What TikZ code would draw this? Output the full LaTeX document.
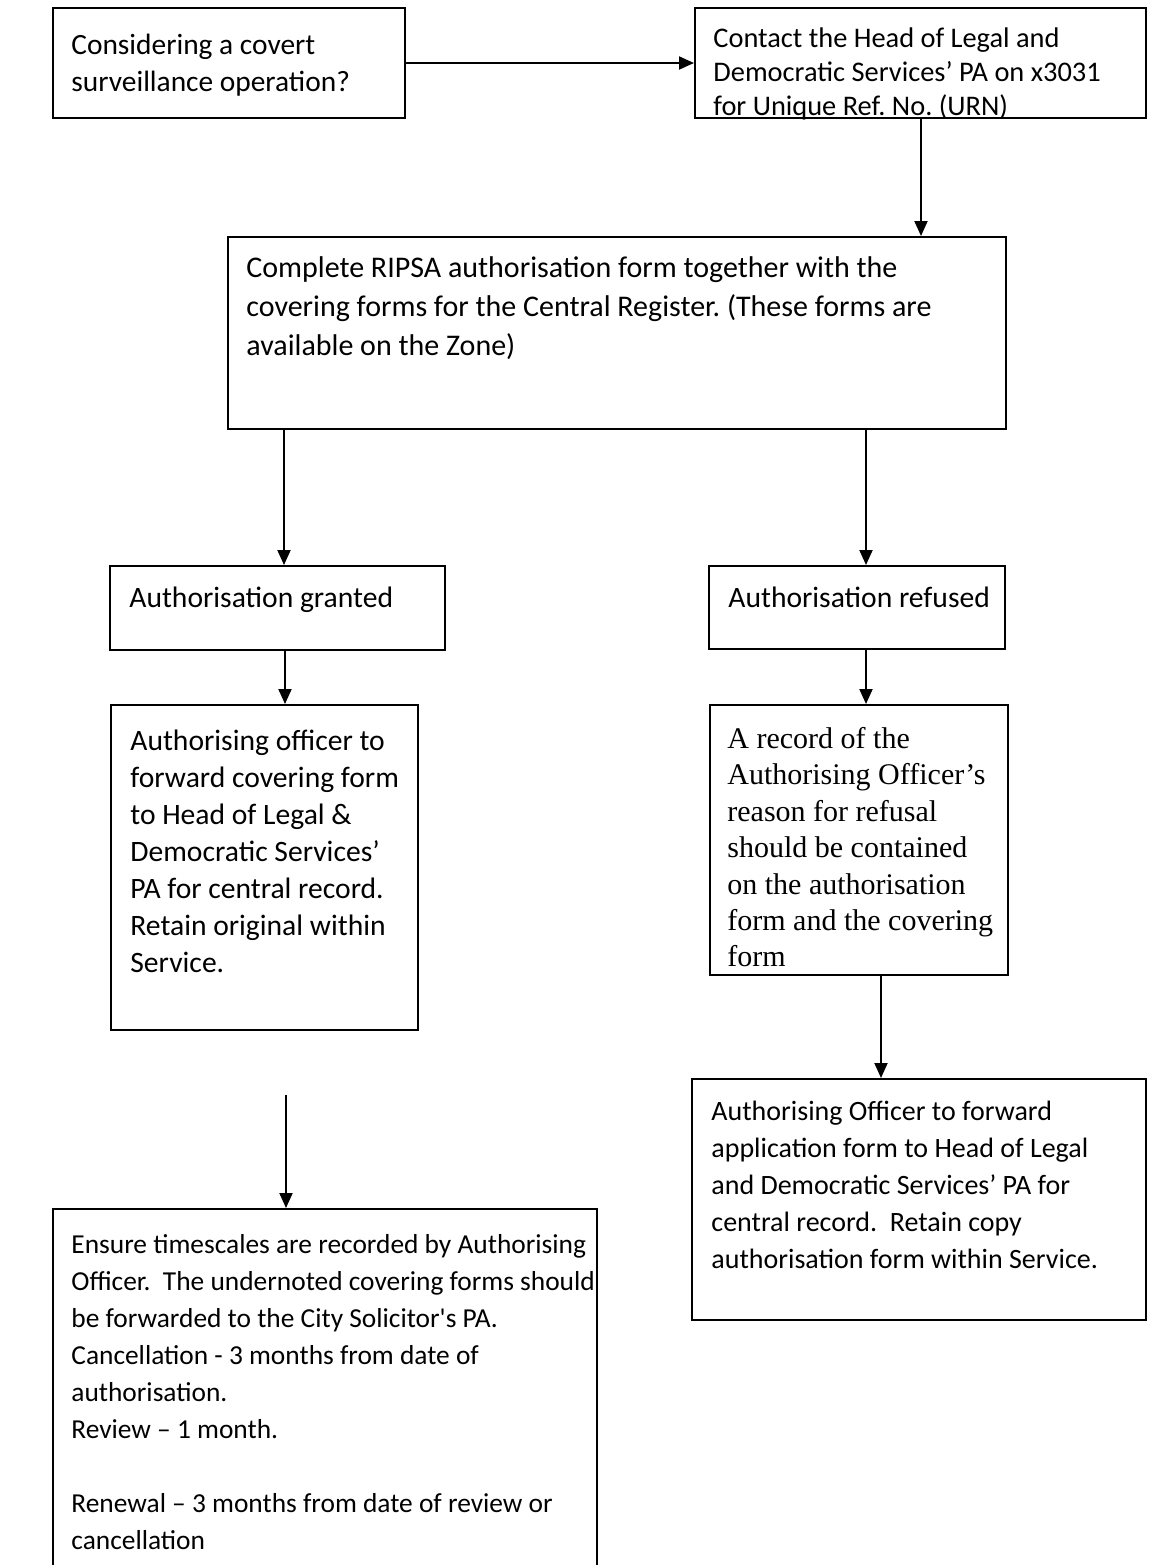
\documentclass[tikz,border=0pt]{standalone}
\usepackage{fontspec}
\setmainfont{Carlito}
\newfontfamily\camfont{Liberation Serif}
\usetikzlibrary{arrows.meta}
\tikzset{
  boxst/.style={draw=black, line width=1pt, inner sep=0pt, fill=none},
  txt/.style={inner sep=0pt, align=left, anchor=north west, font=\fontsize{14}{18.5}\selectfont},
  sertxt/.style={txt, font=\camfont\fontsize{15}{18.2}\selectfont},
  conn/.style={line width=1pt, -{Triangle[length=7.5pt,width=6.5pt]}}
}
\newcommand\mkbox[5]{%
  \node[boxst, minimum width={(#4-#2)*0.5pt}, minimum height={(#5-#3)*0.5pt}] (#1) at ({(#2+#4)/2},{(#3+#5)/2}) {};}
\begin{document}
\frenchspacing
\begin{tikzpicture}[x=0.5pt,y=-0.5pt]
\clip (0,0) rectangle (1148,1565);
\fill[white] (0,0) rectangle (1148,1565);
\mkbox{b1}{53}{8}{405}{118}
\mkbox{b2}{695}{8}{1146}{118}
\mkbox{b3}{228}{237}{1006}{429}
\mkbox{b4}{110}{566}{445}{650}
\mkbox{b5}{709}{566}{1005}{649}
\mkbox{b6}{111}{705}{418}{1030}
\mkbox{b7}{710}{705}{1008}{975}
\mkbox{b8}{692}{1079}{1146}{1320}
\mkbox{b9}{53}{1209}{597}{1580}
%
\node[txt, font=\fontsize{14.7}{18.5}\selectfont] (t1) at ([xshift=9.5pt,yshift=-13.5pt]b1.north west) {Considering a covert\\surveillance operation?};
\node[txt, font=\fontsize{14.2}{17}\selectfont] (t2) at ([xshift=9.5pt,yshift=-10pt]b2.north west) {Contact the Head of Legal and\\Democratic Services’ PA on x3031\\for Unique Ref. No. (URN)};
\node[txt, font=\fontsize{15}{19.5}\selectfont] (t3) at ([xshift=9.5pt,yshift=-10pt]b3.north west) {Complete RIPSA authorisation form together with the\\covering forms for the Central Register. (These forms are\\available on the Zone)};
\node[txt, font=\fontsize{14.8}{18.5}\selectfont] (t4) at ([xshift=10pt,yshift=-11pt]b4.north west) {Authorisation granted};
\node[txt, font=\fontsize{14.8}{18.5}\selectfont] (t5) at ([xshift=10pt,yshift=-11pt]b5.north west) {Authorisation refused};
\node[txt, font=\fontsize{14.8}{18.5}\selectfont] (t6) at ([xshift=10pt,yshift=-13pt]b6.north west) {Authorising officer to\\forward covering form\\to Head of Legal \&\\Democratic Services’\\PA for central record.\\Retain original within\\Service.};
\node[sertxt] (t7) at ([xshift=9pt,yshift=-11.5pt]b7.north west) {A record of the\\Authorising Officer’s\\reason for refusal\\should be contained\\on the authorisation\\form and the covering\\form};
\node[txt] (t8) at ([xshift=10pt,yshift=-11.5pt]b8.north west) {Authorising Officer to forward\\application form to Head of Legal\\and Democratic Services’ PA for\\central record.\ \ Retain copy\\authorisation form within Service.};
\node[txt, font=\fontsize{13.7}{18.5}\selectfont] (t9) at ([xshift=9.5pt,yshift=-13pt]b9.north west) {Ensure timescales are recorded by Authorising\\Officer.\ \ The undernoted covering forms should\\be forwarded to the City Solicitor\textquotesingle s PA.\\Cancellation - 3 months from date of\\authorisation.\\Review – 1 month.\\~\\Renewal – 3 months from date of review or\\cancellation};
%
\coordinate (s9) at (286,1095);
\draw[conn] (b1.east |- 0,63) -- (b2.west |- 0,63);
\draw[conn] (b2.south -| 921,0) -- (b3.north -| 921,0);
\draw[conn] (b3.south -| 284,0) -- (b4.north -| 284,0);
\draw[conn] (b3.south -| 866,0) -- (b5.north -| 866,0);
\draw[conn] (b4.south -| 285,0) -- (b6.north -| 285,0);
\draw[conn] (b5.south -| 866,0) -- (b7.north -| 866,0);
\draw[conn] (b7.south -| 881,0) -- (b8.north -| 881,0);
\draw[conn] (s9) -- (b9.north -| s9);
\end{tikzpicture}
\end{document}
